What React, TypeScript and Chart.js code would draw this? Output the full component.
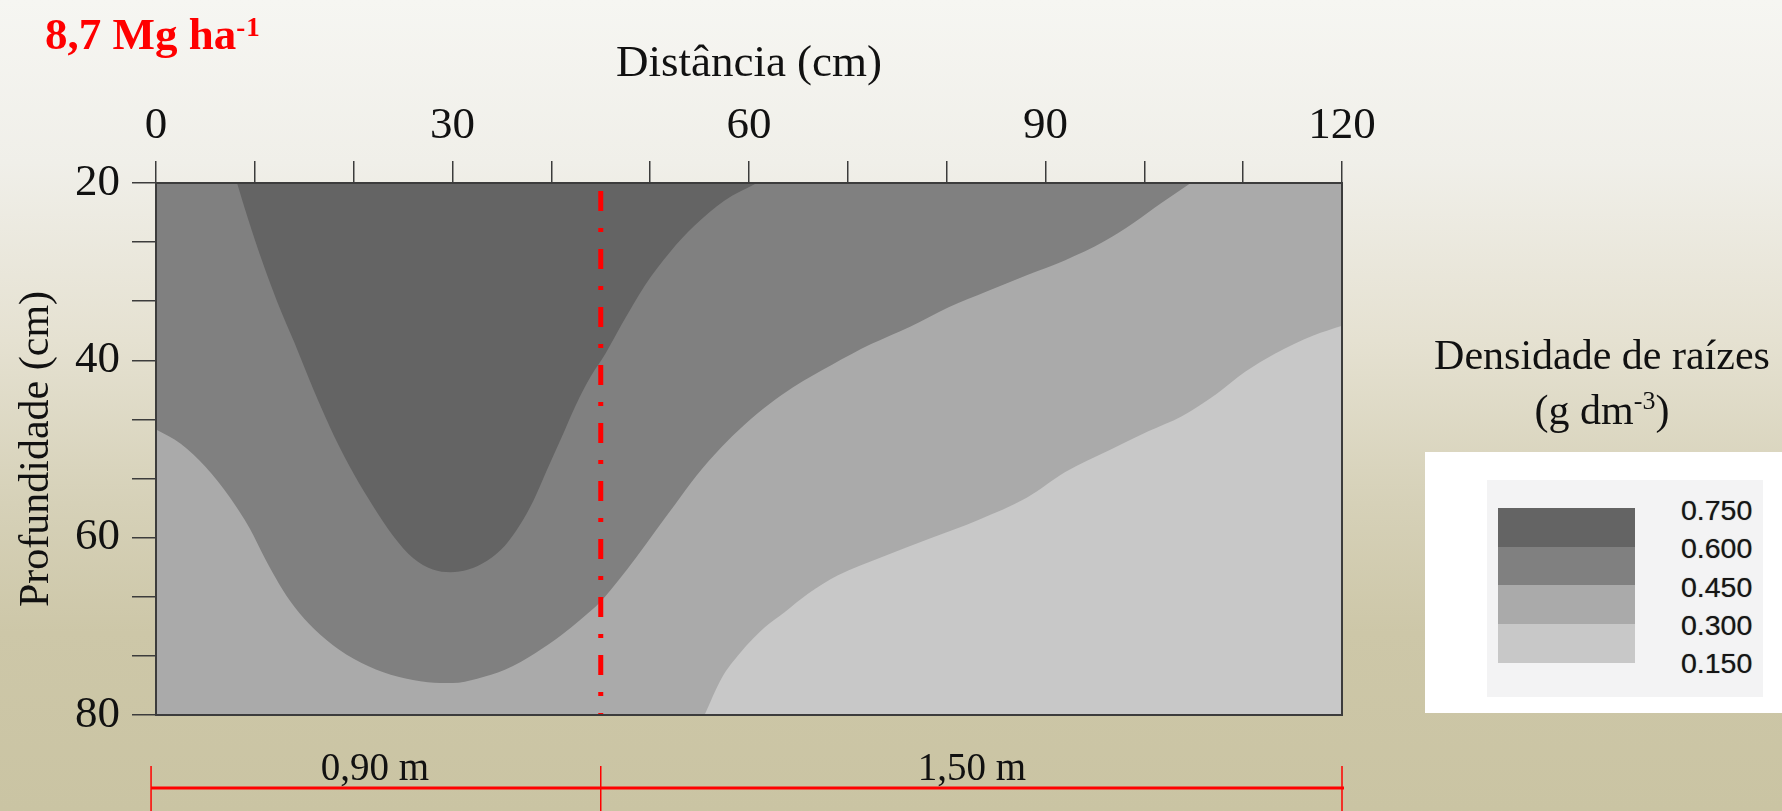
import React, { useEffect, useRef } from 'react';
import { Chart, registerables } from 'chart.js';

Chart.register(...registerables);

// ---- axes ----
const X_TICKS = [0, 10, 20, 30, 40, 50, 60, 70, 80, 90, 100, 110, 120];
const X_LABELED = [0, 30, 60, 90, 120];
const Y_TICKS = [20, 26.667, 33.333, 40, 46.667, 53.333, 60, 66.667, 73.333, 80];
const Y_LABELED = [20, 40, 60, 80];

// ---- contour boundaries (distance cm, depth cm) ----
// boundary of the 0.600 class (darkest region lies above it)
const B600_X = [8.2, 9.3, 10.8, 12.3, 14, 16, 18, 20, 22, 24, 26, 28, 29.8, 31.6, 33.5, 35.3, 36.8, 38.2, 39.5, 41, 42.5, 44, 45.5, 47.2, 49.5, 52, 54.5, 57.5, 60.8];
const B600_Y = [20, 24, 29, 33.5, 38, 43.5, 48.5, 52.8, 56.5, 59.8, 62.3, 63.6, 63.9, 63.6, 62.6, 60.9, 58.6, 55.8, 52.5, 48.8, 45, 41.8, 39.2, 35.8, 31.5, 27.8, 24.8, 22, 20];
// boundary of the 0.450 class
const B450_X = [0, 2.5, 5, 7.5, 9.5, 11, 12.5, 14, 16, 18.5, 21.5, 24.5, 27.5, 30, 32.5, 35.3, 38.4, 41, 43, 45, 46.8, 48.6, 50.5, 52.5, 54.7, 57.2, 59.6, 62.1, 64.5, 68.4, 72.3, 76.3, 80.2, 84.1, 88.1, 92, 95.9, 98.9, 101.8, 104.7];
const B450_Y = [47.8, 49.4, 52, 55.5, 59, 62.3, 65.3, 67.8, 70.3, 72.6, 74.5, 75.7, 76.3, 76.4, 75.9, 74.9, 73, 71, 69.2, 67.2, 64.8, 62.2, 59.3, 56.3, 53, 49.8, 47.2, 44.9, 43, 40.5, 38.2, 36.2, 34, 32.2, 30.4, 28.7, 26.6, 24.5, 22.2, 20];
// boundary of the 0.300 class (lightest region lies below it)
const B300_X = [55.5, 57.2, 59.1, 61.6, 63.6, 66, 69, 73.4, 78.3, 83.2, 88.1, 92, 96.5, 100.4, 103.8, 107.3, 110.2, 113.2, 117.1, 120];
const B300_Y = [80, 75.9, 73, 70.1, 68.4, 66.3, 64.25, 62.2, 60.1, 58, 55.5, 52.6, 50.1, 48, 46.3, 43.8, 41.3, 39.25, 37.2, 36.1];
// whole-section background (0.300 - 0.450 class)
const BASE_X = [0, 120];
const BASE_Y = [80, 80];

// planting row line
const ROW_X = [45, 45];
const ROW_Y = [20, 80];

// legend
const LEVELS = ['0.750', '0.600', '0.450', '0.300', '0.150'];
const LEVEL_COLORS = ['#646464', '#808080', '#aaaaaa', '#c8c8c8'];

// bottom dimension marks (cm) and labels
const DIM_MARKS = [-0.5, 45, 120];
const DIM_LABELS = ['0,90 m', '1,50 m'];

const SERIF = "'Liberation Serif', 'Times New Roman', serif";
const SANS = "'Liberation Sans', Arial, sans-serif";

const pts = (xs: number[], ys: number[]) => xs.map((x, i) => ({ x, y: ys[i] }));

const framePlugin = {
  id: 'frameAndDims',
  afterDatasetsDraw(chart: any) {
    const { ctx, chartArea: a } = chart;
    ctx.save();
    ctx.strokeStyle = '#3c3c3c';
    ctx.lineWidth = 2;
    ctx.strokeRect(a.left, a.top, a.right - a.left, a.bottom - a.top);
    ctx.restore();
  },
  afterDraw(chart: any) {
    const { ctx } = chart;
    const xs = DIM_MARKS.map((v) => chart.scales.x.getPixelForValue(v));
    ctx.save();
    ctx.strokeStyle = '#ff0000';
    ctx.lineWidth = 3;
    ctx.beginPath();
    ctx.moveTo(xs[0], 788);
    ctx.lineTo(xs[xs.length - 1] + 2, 788);
    ctx.stroke();
    ctx.lineWidth = 1.5;
    xs.forEach((x) => {
      ctx.beginPath();
      ctx.moveTo(x, 766);
      ctx.lineTo(x, 811);
      ctx.stroke();
    });
    ctx.restore();
  },
};

function ContourChart() {
  const ref = useRef<HTMLCanvasElement | null>(null);
  useEffect(() => {
    if (!ref.current) return;
    const fillDs = (xs: number[], ys: number[], color: string, target: number) => ({
      data: pts(xs, ys),
      fill: { value: target },
      backgroundColor: color,
      borderColor: 'rgba(0,0,0,0)',
      borderWidth: 0,
      pointRadius: 0,
      cubicInterpolationMode: 'monotone',
    });
    const chart = new Chart(ref.current, {
      type: 'line',
      data: {
        datasets: [
          {
            data: pts(ROW_X, ROW_Y),
            borderColor: '#ff0000',
            borderWidth: 5,
            borderDash: [20, 17, 4, 17],
            borderDashOffset: 50,
            fill: false,
            pointRadius: 0,
            tension: 0,
          } as any,
          fillDs(B600_X, B600_Y, LEVEL_COLORS[0], 20),
          fillDs(B450_X, B450_Y, LEVEL_COLORS[1], 20),
          fillDs(B300_X, B300_Y, LEVEL_COLORS[3], 80),
          fillDs(BASE_X, BASE_Y, LEVEL_COLORS[2], 20),
        ],
      },
      options: {
        responsive: false,
        maintainAspectRatio: false,
        devicePixelRatio: 1,
        animation: false,
        events: [],
        layout: { padding: { left: 0, top: 0, right: 440, bottom: 96 } },
        plugins: { legend: { display: false }, tooltip: { enabled: false } },
        scales: {
          x: {
            type: 'linear',
            position: 'top',
            min: 0,
            max: 120,
            afterBuildTicks: (s: any) => {
              s.ticks = X_TICKS.map((v) => ({ value: v }));
            },
            afterFit: (s: any) => {
              s.height = 183;
            },
            ticks: {
              autoSkip: false,
              maxRotation: 0,
              padding: 8,
              color: '#111',
              font: { family: SERIF, size: 45 },
              callback: (v: any) => (X_LABELED.includes(Number(v)) ? String(v) : ''),
            },
            grid: {
              drawOnChartArea: false,
              drawTicks: true,
              tickLength: 22,
              color: '#3c3c3c',
              lineWidth: 1.5,
            },
            border: { display: true, color: '#3c3c3c', width: 2 },
            title: {
              display: true,
              text: 'Distância (cm)',
              color: '#111',
              font: { family: SERIF, size: 45 },
              padding: { top: 37, bottom: 0 },
            },
          },
          y: {
            type: 'linear',
            reverse: true,
            min: 20,
            max: 80,
            afterBuildTicks: (s: any) => {
              s.ticks = Y_TICKS.map((v) => ({ value: v }));
            },
            afterFit: (s: any) => {
              s.width = 156;
            },
            ticks: {
              autoSkip: false,
              padding: 12,
              color: '#111',
              font: { family: SERIF, size: 45 },
              callback: (v: any) => {
                const n = Number(v);
                const hit = Y_LABELED.find((t) => Math.abs(t - n) < 0.01);
                return hit !== undefined ? String(hit) : '';
              },
            },
            grid: {
              drawOnChartArea: false,
              drawTicks: true,
              tickLength: 24,
              color: '#3c3c3c',
              lineWidth: 1.5,
            },
            border: { display: true, color: '#3c3c3c', width: 2 },
            title: {
              display: true,
              text: 'Profundidade (cm)',
              color: '#111',
              font: { family: SERIF, size: 42 },
              padding: { top: 12, bottom: 0 },
            },
          },
        },
      } as any,
      plugins: [framePlugin],
    });
    return () => chart.destroy();
  }, []);
  return (
    <canvas
      ref={ref}
      width={1782}
      height={811}
      style={{ position: 'absolute', left: 0, top: 0, width: 1782, height: 811 }}
    />
  );
}

export default function App() {
  const swTop = 508;
  const swH = 38.6;
  return (
    <div
      style={{
        position: 'absolute',
        left: 0,
        top: 0,
        width: 1782,
        height: 811,
        overflow: 'hidden',
        background:
          'linear-gradient(to bottom, #f6f6f2 0%, #f0efe9 20%, #e5e1d1 42%, #d6d1b8 62%, #cdc7a8 78%, #cac4a3 100%)',
      }}
    >
      <ContourChart />
      {/* panel title */}
      <div
        style={{
          position: 'absolute',
          left: 45,
          top: 12,
          fontFamily: SERIF,
          fontWeight: 'bold',
          fontSize: 45,
          lineHeight: '45px',
          color: '#ff0000',
          whiteSpace: 'nowrap',
        }}
      >
        8,7 Mg ha
        <span style={{ fontSize: 27, position: 'relative', top: -13, letterSpacing: 1 }}>-1</span>
      </div>
      {/* legend title */}
      <div
        style={{
          position: 'absolute',
          left: 1402,
          top: 328,
          width: 400,
          textAlign: 'center',
          fontFamily: SERIF,
          fontSize: 42,
          lineHeight: '55px',
          color: '#111',
          whiteSpace: 'nowrap',
        }}
      >
        <div>Densidade de raízes</div>
        <div>
          (g dm<span style={{ fontSize: 26, position: 'relative', top: -15 }}>-3</span>)
        </div>
      </div>
      {/* legend box */}
      <div
        style={{ position: 'absolute', left: 1425, top: 452, width: 357, height: 261, background: '#ffffff' }}
      />
      <div
        style={{
          position: 'absolute',
          left: 1487,
          top: 480,
          width: 276,
          height: 217,
          background: '#f3f3f4',
        }}
      />
      {LEVEL_COLORS.map((c, i) => (
        <div
          key={c}
          style={{
            position: 'absolute',
            left: 1498,
            top: swTop + i * swH,
            width: 137,
            height: swH + 0.5,
            background: c,
          }}
        />
      ))}
      {LEVELS.map((t, i) => (
        <div
          key={t}
          style={{
            position: 'absolute',
            left: 1681,
            top: 510 + i * 38.3 - 14,
            fontFamily: SANS,
            fontSize: 28.5,
            lineHeight: '28px',
            color: '#151515',
            textShadow: '0 0 1px #777',
            whiteSpace: 'nowrap',
          }}
        >
          {t}
        </div>
      ))}
      {/* dimension labels */}
      {DIM_LABELS.map((t, i) => (
        <div
          key={t}
          style={{
            position: 'absolute',
            left: (i === 0 ? 375 : 972) - 150,
            top: 747,
            width: 300,
            textAlign: 'center',
            fontFamily: SERIF,
            fontSize: 39,
            lineHeight: '39px',
            color: '#111',
            whiteSpace: 'nowrap',
          }}
        >
          {t}
        </div>
      ))}
    </div>
  );
}
